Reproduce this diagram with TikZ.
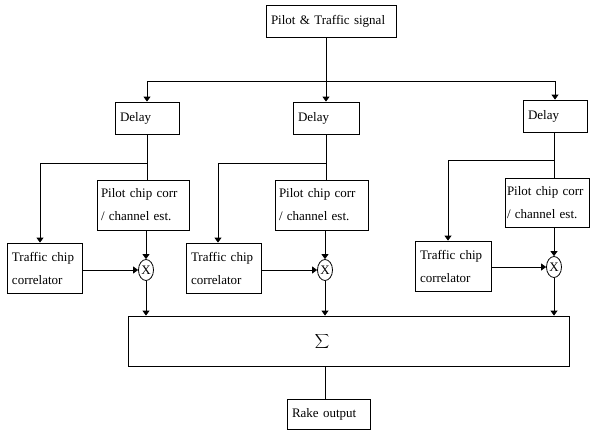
\documentclass[tikz,border=0pt]{standalone}
\usepackage{fontspec}
\setmainfont{Liberation Serif}
\usetikzlibrary{shapes.geometric,arrows.meta}

\tikzset{
  blk/.style={draw, rectangle, align=left, inner xsep=5pt, inner ysep=0pt,
    line width=0.8pt, font=\fontsize{13}{23}\selectfont},
  mult/.style={draw, ellipse, inner sep=0pt, minimum width=15pt,
    minimum height=21pt, line width=0.8pt, font=\fontsize{13}{13}\selectfont},
  flow/.style={-{Triangle[length=5pt,width=7pt]}, line width=0.8pt},
  wire/.style={line width=0.8pt}
}

\begin{document}
\begin{tikzpicture}[x=1pt,y=-1pt]
    \useasboundingbox (0,0) rectangle (594,431);

    \node[blk, text width=120pt, minimum height=32pt] (sig) at (331,21) {Pilot \& Traffic signal};

    \node[blk, text width=54pt, minimum height=32pt] (d1) at (147,118) {Delay};
    \node[blk, text width=56pt, minimum height=32pt] (d2) at (326,118) {Delay};
    \node[blk, text width=54pt, minimum height=32pt] (d3) at (555,116) {Delay};

    \node[blk, text width=84pt, inner xsep=4pt, minimum height=50pt] (p1) at (143,205) {Pilot chip corr\\/ channel est.};
    \node[blk, text width=85pt, inner xsep=4pt, minimum height=50pt] (p2) at (321.5,205) {Pilot chip corr\\/ channel est.};
    \node[blk, text width=80pt, inner xsep=2pt, minimum height=49pt] (p3) at (547,202.5) {Pilot chip corr\\/ channel est.};

    \node[blk, text width=65pt, minimum height=50pt] (t1) at (44.5,268) {Traffic chip\\correlator};
    \node[blk, text width=65pt, minimum height=50pt] (t2) at (223.5,268) {Traffic chip\\correlator};
    \node[blk, text width=66pt, minimum height=50pt] (t3) at (453,266) {Traffic chip\\correlator};

    \node[mult] (m1) at (146,270) {X};
    \node[mult] (m2) at (325,270) {X};
    \node[mult] (m3) at (554,267) {X};

    \node[draw, line width=0.8pt, minimum width=441pt, minimum height=50pt] (sum) at (348.5,341) {};
    \node (sumlbl) at (322,341) {\fontsize{13}{13}\selectfont$\displaystyle\sum$};

    \node[blk, text width=73pt, minimum height=30pt] (rake) at (328.5,414) {Rake output};

    % splitting the input
    \coordinate (b1) at (147,81);
    \coordinate (b3) at (555,81);
    \draw[wire] (b1) -- (b3);
    \draw[flow] (d2 |- sig.south) -- (d2);
    \draw[flow] (b1) -- (d1);
    \draw[flow] (b3) -- (d3);

    % branches after the delays
    \coordinate (j1) at (147,163);
    \coordinate (k1) at (40,163);
    \coordinate (j2) at (326,163);
    \coordinate (k2) at (218,163);
    \coordinate (j3) at (554,160);
    \coordinate (k3) at (448,160);

    \draw[wire] (d1) -- (j1) -- (k1);
    \draw[wire] (d2) -- (j2) -- (k2);
    \draw[wire] (d3.south -| j3) -- (j3) -- (k3);
    \draw[wire] (j1) -- (j1 |- p1.north);
    \draw[wire] (j2) -- (j2 |- p2.north);
    \draw[wire] (j3) -- (j3 |- p3.north);
    \draw[flow] (k1) -- (k1 |- t1.north);
    \draw[flow] (k2) -- (k2 |- t2.north);
    \draw[flow] (k3) -- (k3 |- t3.north);

    % correlators into the multipliers
    \draw[flow] (p1.south -| m1) -- (m1);
    \draw[flow] (p2.south -| m2) -- (m2);
    \draw[flow] (p3.south -| m3) -- (m3);
    \draw[flow] (t1.east |- m1) -- (m1);
    \draw[flow] (t2.east |- m2) -- (m2);
    \draw[flow] (t3.east |- m3) -- (m3);

    % combining
    \draw[flow] (m1) -- (m1 |- sum.north);
    \draw[flow] (m2) -- (m2 |- sum.north);
    \draw[flow] (m3) -- (m3 |- sum.north);
    \draw[wire] (sum.south -| m2) -- (rake.north -| m2);

\end{tikzpicture}
\end{document}
